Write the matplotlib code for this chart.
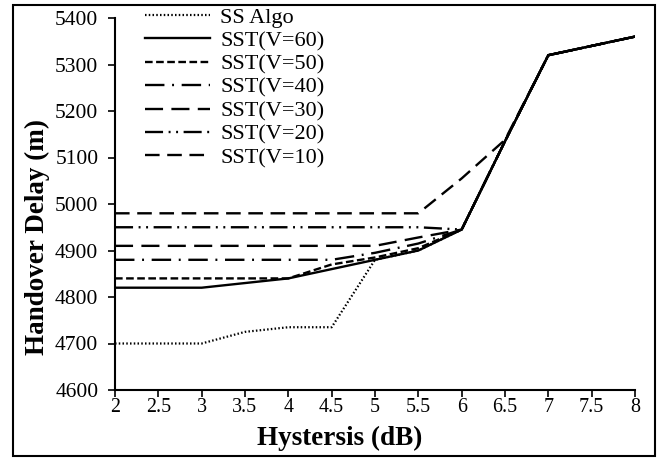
import numpy as np
from matplotlib import pyplot as plt
from matplotlib.patches import Rectangle

plt.rcParams["font.family"] = ["Liberation Serif", "DejaVu Serif"]
plt.rcParams["lines.scale_dashes"] = False

# hysteresis values (dB)
hyst = [2, 2.5, 3, 3.5, 4, 4.5, 5, 5.5, 6, 6.5, 7, 7.5, 8]

# handover delay (m)
ss_algo = [4700, 4700, 4700, 4725, 4735, 4735, 4880, 4900, 4945, 5135, 5320, 5340, 5360]
sst_v60 = [4820, 4820, 4820, 4830, 4840, 4860, 4880, 4900, 4945, 5135, 5320, 5340, 5360]
sst_v50 = [4840, 4840, 4840, 4840, 4840, 4870, 4885, 4905, 4945, 5135, 5320, 5340, 5360]
sst_v40 = [4880, 4880, 4880, 4880, 4880, 4880, 4895, 4915, 4945, 5135, 5320, 5340, 5360]
sst_v30 = [4910, 4910, 4910, 4910, 4910, 4910, 4910, 4928, 4945, 5135, 5320, 5340, 5360]
sst_v20 = [4950, 4950, 4950, 4950, 4950, 4950, 4950, 4950, 4945, 5135, 5320, 5340, 5360]
sst_v10 = [4980, 4980, 4980, 4980, 4980, 4980, 4980, 4980, 5055, 5138, 5320, 5340, 5360]

labels = ["SS Algo", "SST(V=60)", "SST(V=50)", "SST(V=40)",
          "SST(V=30)", "SST(V=20)", "SST(V=10)"]
series = [ss_algo, sst_v60, sst_v50, sst_v40, sst_v30, sst_v20, sst_v10]

# dash patterns in points
styles = [(0, (1.1, 1.6)),
          "-",
          (0, (5.5, 2.5)),
          (0, (14, 5.5, 1.4, 5.5)),
          (0, (13, 6)),
          (0, (13, 4, 1.4, 4, 1.4, 4)),
          (0, (10.5, 5.5))]
widths = [1.6, 1.7, 1.7, 1.7, 1.7, 1.7, 1.7]

W, H = 665, 459
fig = plt.figure(figsize=(W / 100, H / 100), dpi=100)
ax = fig.add_axes([115 / W, 1 - 390 / H, (635 - 115) / W, (390 - 18) / H])

for y, lab, ls, lw in zip(series, labels, styles, widths):
    ax.plot(hyst, y, color="black", linestyle=ls, linewidth=lw, label=lab)

ax.set_xlim(2, 8)
ax.set_ylim(4600, 5400)
xt = np.arange(2, 8.01, 0.5)
ax.set_xticks(xt)
ax.set_xticklabels([("%g" % v) for v in xt])
ax.set_yticks(np.arange(4600, 5401, 100))

for s in ["top", "right"]:
    ax.spines[s].set_visible(False)
for s in ["left", "bottom"]:
    ax.spines[s].set_linewidth(1.5)

ax.tick_params(axis="both", direction="out", length=5, width=1.2, colors="black")
ax.tick_params(axis="y", pad=7, labelsize=15.5)
ax.tick_params(axis="x", pad=1, labelsize=14.4)

ax.set_xlabel("Hystersis (dB)", fontsize=19.5, fontweight="bold", va="top")
ax.set_ylabel("Handover Delay (m)", fontsize=19.5, fontweight="bold", va="bottom")
ax.xaxis.set_label_coords((340 - 115) / 520, -0.096)
ax.yaxis.set_label_coords((50 - 115) / 520, (390 - 237) / 372)

leg = ax.legend(loc="upper left", bbox_to_anchor=(145 / W, 1 - 7 / H),
                bbox_transform=fig.transFigure, frameon=False, fontsize=16,
                handlelength=2.93, handletextpad=0.45, labelspacing=0.13,
                borderaxespad=0, borderpad=0)

fig.patches.append(Rectangle((13 / W, 1 - 456 / H), (655 - 13) / W, (456 - 5) / H,
                             transform=fig.transFigure, fill=False,
                             edgecolor="black", linewidth=1.5))

fig.savefig("out.png", dpi=100)
